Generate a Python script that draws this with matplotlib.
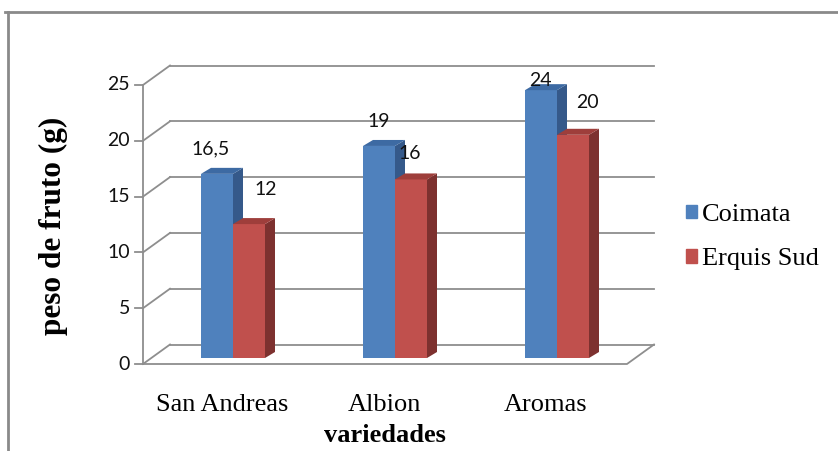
import matplotlib.pyplot as plt
from matplotlib.patches import Polygon, Patch
from matplotlib.lines import Line2D
import numpy as np

# dados
variedades = ["San Andreas", "Albion", "Aromas"]
coimata = [16.5, 19, 24]
erquis_sud = [12, 16, 20]
rotulos_coimata = ["16,5", "19", "24"]
rotulos_erquis = ["12", "16", "20"]
ticks_y = [0, 5, 10, 15, 20, 25]

# deslocamento dos rótulos de valor (pixels)
desloc_coimata = [(-6, 25), (0, 24), (-1, 10)]
desloc_erquis = [(17, 35), (-1, 26), (14, 32)]

AZUL = ("#4F81BD", "#35598A", "#3D6AA3")
VERMELHO = ("#C0504D", "#7D312F", "#9E3E3B")
CINZA = "#8E8E8E"

fig = plt.figure(figsize=(8.38, 4.51), dpi=100)
W, H = 838, 451

# eixo em "pixels": x = 233 + 162*i, y = 364 - 11.16*v
px_x, px_v = 162.0, 11.16
ax = fig.add_axes([100 / W, (H - 380) / H, 600 / W, 330 / H])
ax.set_xlim((100 - 233) / px_x, (700 - 233) / px_x)
ax.set_ylim((364 - 380) / px_v, (364 - 50) / px_v)
ax.axis("off")

# geometria do "3D"
x_esq = (143 - 233) / px_x
x_dir = (627 - 233) / px_x
dx, dy = 27 / px_x, 19.5 / px_v
base = 6 / px_v
larg = 32 / px_x
pdx, pdy = 10 / px_x, 6 / px_v

# parede do fundo e parede lateral
for v in ticks_y:
    ax.plot([x_esq + dx, x_dir + dx], [v + dy, v + dy], color=CINZA, lw=1.3, zorder=1)
    ax.plot([x_esq, x_esq + dx], [v, v + dy], color=CINZA, lw=1.3, zorder=1)
    ax.plot([x_esq - 8 / px_x, x_esq], [v, v], color=CINZA, lw=1.3, zorder=1)
    ax.annotate(str(v), (x_esq, v), xytext=(-13, 0), textcoords="offset pixels",
                ha="right", va="center", fontsize=14, family="Lato", color="#111111")
ax.plot([x_esq, x_esq], [0, 25], color=CINZA, lw=1.3, zorder=1)
# piso
ax.plot([x_esq, x_dir, x_dir + dx], [0, 0, dy], color=CINZA, lw=1.3, zorder=1)


def barra3d(x, v, cores):
    frente, lado, topo = cores
    ax.bar(x, v, width=larg, bottom=base, color=frente, lw=0, zorder=3)
    x0, x1 = x - larg / 2, x + larg / 2
    t = base + v
    ax.add_patch(Polygon([(x1, base), (x1 + pdx, base + pdy), (x1 + pdx, t + pdy), (x1, t)],
                         closed=True, fc=lado, lw=0, zorder=3))
    ax.add_patch(Polygon([(x0, t), (x0 + pdx, t + pdy), (x1 + pdx, t + pdy), (x1, t)],
                         closed=True, fc=topo, lw=0, zorder=3))


pos = np.arange(len(variedades))
for i in pos:
    xa = i - larg / 2
    xv = i + larg / 2
    barra3d(xa, coimata[i], AZUL)
    barra3d(xv, erquis_sud[i], VERMELHO)
    ax.annotate(rotulos_coimata[i], (xa, base + coimata[i]), xytext=desloc_coimata[i],
                textcoords="offset pixels", ha="center", va="center",
                fontsize=14, family="Lato", color="#111111", zorder=5)
    ax.annotate(rotulos_erquis[i], (xv, base + erquis_sud[i]), xytext=desloc_erquis[i],
                textcoords="offset pixels", ha="center", va="center",
                fontsize=14, family="Lato", color="#111111", zorder=5)
    ax.annotate(variedades[i], (i, 0), xytext=(-11, -41), textcoords="offset pixels",
                ha="center", va="center", fontsize=19, family="Liberation Serif")

fig.text(385 / W, 1 - 435 / H, "variedades", ha="center", va="center",
         fontsize=19, fontweight="bold", family="Liberation Serif")
fig.text(53 / W, 1 - 226 / H, "peso de fruto (g)", ha="center", va="center",
         rotation=90, fontsize=22.5, fontweight="bold", family="Liberation Serif")

handles = [Patch(color=AZUL[0]), Patch(color=VERMELHO[0])]
fig.legend(handles, ["Coimata", "Erquis Sud"], loc="center left",
           bbox_to_anchor=(686 / W, 1 - 237 / H), frameon=False,
           prop={"family": "Liberation Serif", "size": 19},
           handlelength=0.42, handleheight=0.42, handletextpad=0.2,
           labelspacing=0.85, borderpad=0, borderaxespad=0)

# moldura
fig.add_artist(Line2D([5 / W, 1], [1 - 12 / H, 1 - 12 / H], color="#8A8A8A", lw=2))
fig.add_artist(Line2D([8 / W, 8 / W], [0, 1 - 12 / H], color="#8A8A8A", lw=2))

fig.savefig("out.png", dpi=100)
